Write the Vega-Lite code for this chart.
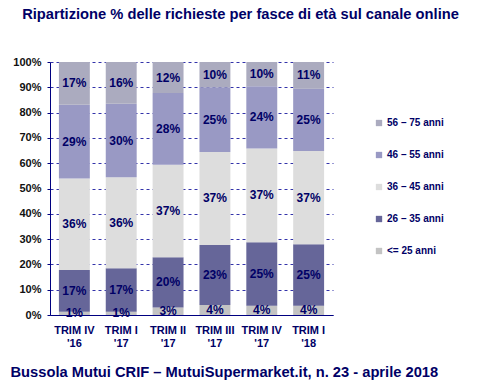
{
  "$schema": "https://vega.github.io/schema/vega-lite/v6.json",
  "width": 283,
  "height": 253,
  "autosize": {"type": "none"},
  "padding": {"left": 50, "top": 62, "right": 168, "bottom": 72},
  "background": "white",
  "config": {
    "view": {"stroke": null},
    "font": "Liberation Sans",
    "axisY": {
      "values": [0, 10, 20, 30, 40, 50, 60, 70, 80, 90, 100],
      "labelExpr": "datum.value + '%'",
      "labelOverlap": false,
      "labelFont": "Liberation Sans",
      "labelFontSize": 11,
      "labelFontWeight": "bold",
      "labelColor": "#111111",
      "labelPadding": 6,
      "tickSize": 3,
      "tickColor": "#000080",
      "domainColor": "#000080",
      "grid": true,
      "gridColor": "#3333aa",
      "gridDash": [3, 3],
      "gridWidth": 1,
      "title": null
    }
  },
  "title": {
    "text": "Ripartizione % delle richieste per fasce di età sul canale online",
    "font": "Liberation Sans",
    "fontSize": 14.7,
    "fontWeight": "bold",
    "color": "#000066",
    "anchor": "middle",
    "frame": "group",
    "dx": 49,
    "offset": 34
  },
  "data": {
    "values": [
      {"q": "TRIM IV|'16", "g": "<= 25 anni", "o": 1, "v": 1.3, "t": "1%"},
      {"q": "TRIM IV|'16", "g": "26 – 35 anni", "o": 2, "v": 16.5, "t": "17%"},
      {"q": "TRIM IV|'16", "g": "36 – 45 anni", "o": 3, "v": 36.2, "t": "36%"},
      {"q": "TRIM IV|'16", "g": "46 – 55 anni", "o": 4, "v": 29.1, "t": "29%"},
      {"q": "TRIM IV|'16", "g": "56 – 75 anni", "o": 5, "v": 16.9, "t": "17%"},
      {"q": "TRIM I|'17", "g": "<= 25 anni", "o": 1, "v": 1.3, "t": "1%"},
      {"q": "TRIM I|'17", "g": "26 – 35 anni", "o": 2, "v": 17.2, "t": "17%"},
      {"q": "TRIM I|'17", "g": "36 – 45 anni", "o": 3, "v": 35.9, "t": "36%"},
      {"q": "TRIM I|'17", "g": "46 – 55 anni", "o": 4, "v": 29.1, "t": "30%"},
      {"q": "TRIM I|'17", "g": "56 – 75 anni", "o": 5, "v": 16.5, "t": "16%"},
      {"q": "TRIM II|'17", "g": "<= 25 anni", "o": 1, "v": 3.0, "t": "3%"},
      {"q": "TRIM II|'17", "g": "26 – 35 anni", "o": 2, "v": 19.8, "t": "20%"},
      {"q": "TRIM II|'17", "g": "36 – 45 anni", "o": 3, "v": 36.6, "t": "37%"},
      {"q": "TRIM II|'17", "g": "46 – 55 anni", "o": 4, "v": 28.3, "t": "28%"},
      {"q": "TRIM II|'17", "g": "56 – 75 anni", "o": 5, "v": 12.3, "t": "12%"},
      {"q": "TRIM III|'17", "g": "<= 25 anni", "o": 1, "v": 4.0, "t": "4%"},
      {"q": "TRIM III|'17", "g": "26 – 35 anni", "o": 2, "v": 23.7, "t": "23%"},
      {"q": "TRIM III|'17", "g": "36 – 45 anni", "o": 3, "v": 36.7, "t": "37%"},
      {"q": "TRIM III|'17", "g": "46 – 55 anni", "o": 4, "v": 25.6, "t": "25%"},
      {"q": "TRIM III|'17", "g": "56 – 75 anni", "o": 5, "v": 10.0, "t": "10%"},
      {"q": "TRIM IV|'17", "g": "<= 25 anni", "o": 1, "v": 3.7, "t": "4%"},
      {"q": "TRIM IV|'17", "g": "26 – 35 anni", "o": 2, "v": 25.1, "t": "25%"},
      {"q": "TRIM IV|'17", "g": "36 – 45 anni", "o": 3, "v": 37.0, "t": "37%"},
      {"q": "TRIM IV|'17", "g": "46 – 55 anni", "o": 4, "v": 24.6, "t": "24%"},
      {"q": "TRIM IV|'17", "g": "56 – 75 anni", "o": 5, "v": 9.6, "t": "10%"},
      {"q": "TRIM I|'18", "g": "<= 25 anni", "o": 1, "v": 3.7, "t": "4%"},
      {"q": "TRIM I|'18", "g": "26 – 35 anni", "o": 2, "v": 24.3, "t": "25%"},
      {"q": "TRIM I|'18", "g": "36 – 45 anni", "o": 3, "v": 36.8, "t": "37%"},
      {"q": "TRIM I|'18", "g": "46 – 55 anni", "o": 4, "v": 24.6, "t": "25%"},
      {"q": "TRIM I|'18", "g": "56 – 75 anni", "o": 5, "v": 10.6, "t": "11%"}
    ]
  },
  "transform": [
    {"stack": "v", "groupby": ["q"], "sort": [{"field": "o", "order": "ascending"}], "as": ["y0", "y1"]},
    {"calculate": "(datum.y0 + datum.y1) / 2", "as": "mid"}
  ],
  "encoding": {
    "x": {
      "field": "q",
      "type": "nominal",
      "sort": null,
      "scale": {"paddingInner": 0.34, "paddingOuter": 0.19},
      "axis": {
        "labelExpr": "split(datum.label, '|')",
        "labelAngle": 0,
        "labelFont": "Liberation Sans",
        "labelFontSize": 11,
        "labelFontWeight": "bold",
        "labelColor": "#000066",
        "labelLineHeight": 13,
        "labelPadding": 9,
        "ticks": false,
        "domainColor": "#000080",
        "domainWidth": 1,
        "title": "Bussola Mutui CRIF – MutuiSupermarket.it, n. 23 - aprile 2018",
        "titleFont": "Liberation Sans",
        "titleFontSize": 14.7,
        "titleFontWeight": "bold",
        "titleColor": "#000066",
        "titleAnchor": "start",
        "titleAlign": "left",
        "titleBaseline": "alphabetic",
        "titleX": -40,
        "titleY": 61
      }
    }
  },
  "layer": [
    {
      "mark": {"type": "bar"},
      "encoding": {
        "y": {
          "field": "y0",
          "type": "quantitative",
          "scale": {"domain": [0, 100], "nice": false},
          "axis": {"values": [0, 10, 20, 30, 40, 50, 60, 70, 80, 90, 100], "tickCount": 11, "labelOverlap": false, "title": null}
        },
        "y2": {"field": "y1"},
        "color": {
          "field": "g",
          "type": "nominal",
          "scale": {
            "domain": ["56 – 75 anni", "46 – 55 anni", "36 – 45 anni", "26 – 35 anni", "<= 25 anni"],
            "range": ["#ABABBF", "#9999C4", "#DDDDDD", "#666699", "#C3C3C3"]
          },
          "legend": {
            "title": null,
            "orient": "none",
            "legendX": 324,
            "legendY": 56,
            "symbolType": "square",
            "symbolSize": 40,
            "symbolStrokeWidth": 0,
            "labelFont": "Liberation Sans",
            "labelFontSize": 10,
            "labelFontWeight": "bold",
            "labelColor": "#000066",
            "labelOffset": 3,
            "rowPadding": 22
          }
        }
      }
    },
    {
      "mark": {"type": "text", "font": "Liberation Sans", "fontSize": 12, "fontWeight": "bold", "color": "#000066", "baseline": "middle"},
      "encoding": {
        "y": {
          "field": "mid",
          "type": "quantitative",
          "axis": {"values": [0, 10, 20, 30, 40, 50, 60, 70, 80, 90, 100], "tickCount": 11, "labelOverlap": false, "title": null}
        },
        "text": {"field": "t"}
      }
    }
  ]
}
